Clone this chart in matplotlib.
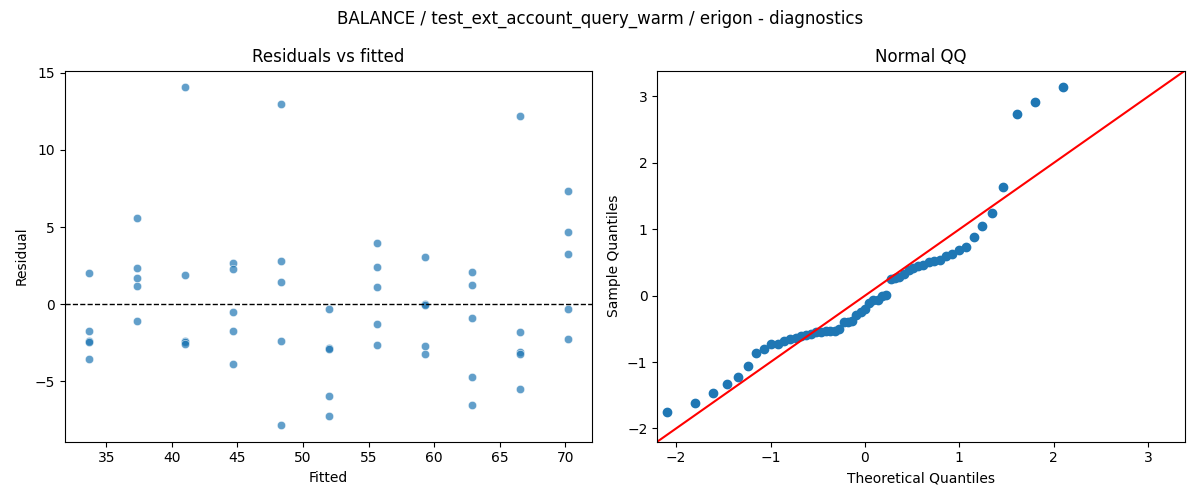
import numpy as np
import matplotlib
matplotlib.use("Agg")
import matplotlib.pyplot as plt
import seaborn as sns
from statistics import NormalDist

# fitted levels and the residuals observed at each level
fitted_levels = [33.65, 37.31, 40.97, 44.63, 48.29, 51.95, 55.61, 59.27, 62.93, 66.59, 70.25]
resid_by_level = [
    [2.02, -1.75, -2.35, -2.45, -3.55],
    [5.57, 2.34, 1.69, 1.18, -1.09],
    [14.04, 1.89, -2.36, -2.45, -2.55],
    [2.66, 2.27, -0.50, -1.73, -3.87],
    [13.00, 2.79, 1.43, -2.38, -7.81],
    [-0.31, -2.85, -2.90, -5.93, -7.23],
    [3.96, 2.40, 1.13, -1.28, -2.64],
    [3.05, 0.02, -0.05, -2.70, -3.22],
    [2.08, 1.24, -0.89, -4.71, -6.52],
    [12.17, -1.80, -3.07, -3.22, -5.48],
    [7.32, 4.67, 3.25, -0.31, -2.25],
]

fitted = np.repeat(fitted_levels, [len(r) for r in resid_by_level])
resid = np.concatenate([np.array(r) for r in resid_by_level])

# normal QQ (standardised residuals vs normal quantiles)
n = len(resid)
sample_q = np.sort((resid - resid.mean()) / resid.std())
theor_q = np.array([NormalDist().inv_cdf(i / (n + 1)) for i in range(1, n + 1)])

fig, (ax1, ax2) = plt.subplots(1, 2, figsize=(12, 5), dpi=100)

sns.scatterplot(x=fitted, y=resid, ax=ax1, alpha=0.7)
ax1.axhline(0, color="black", linestyle="--", linewidth=1)
ax1.set_title("Residuals vs fitted")
ax1.set_xlabel("Fitted")
ax1.set_ylabel("Residual")

ax2.plot(theor_q, sample_q, "o", color="C0")
lo, hi = -2.2, 3.39
ax2.set_xlim(lo, hi)
ax2.set_ylim(lo, hi)
ax2.axline((0, 0), slope=1, color="r")
ax2.set_title("Normal QQ")
ax2.set_xlabel("Theoretical Quantiles")
ax2.set_ylabel("Sample Quantiles")

fig.suptitle("BALANCE / test_ext_account_query_warm / erigon - diagnostics")
fig.tight_layout()
fig.savefig("out.png")
